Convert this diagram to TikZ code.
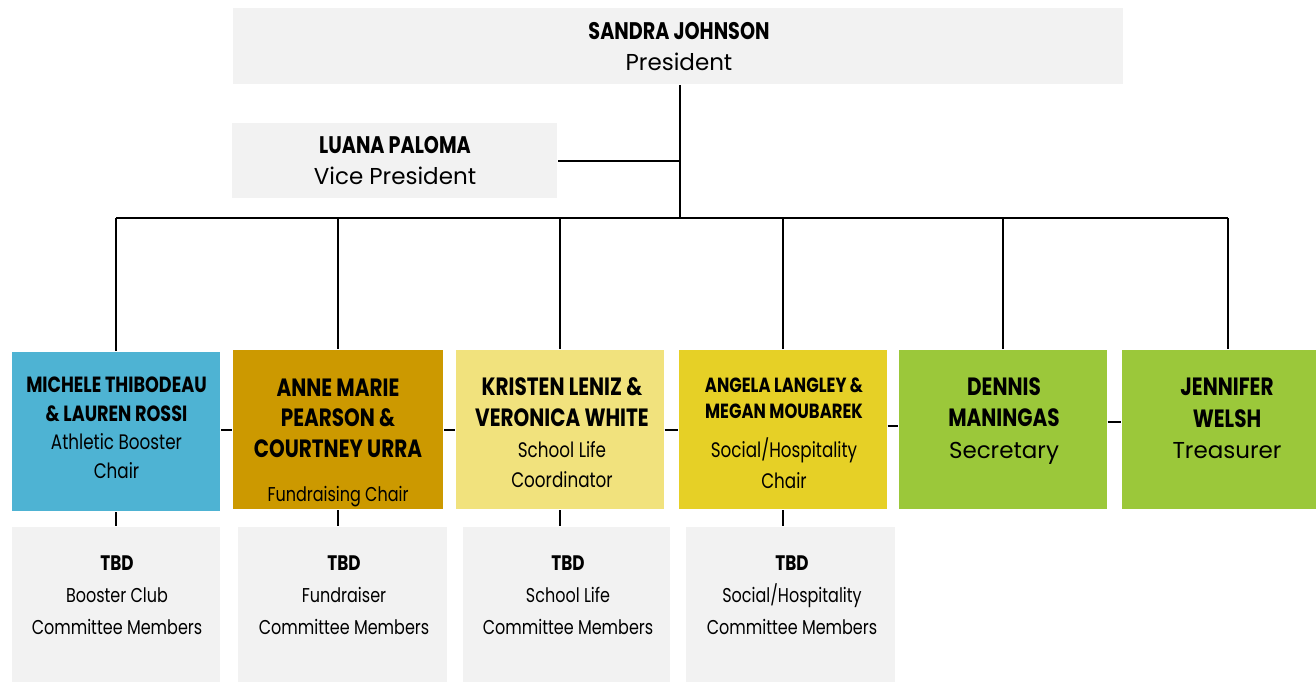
\documentclass[tikz,border=0pt]{standalone}
\usepackage{fontspec}
\setmainfont{Poppins}
\newfontfamily\condfont[FakeStretch=0.8]{Poppins}
\usetikzlibrary{positioning}

\definecolor{boxgray}{HTML}{F2F2F2}
\definecolor{athblue}{HTML}{4EB3D3}
\definecolor{fundgold}{HTML}{CC9900}
\definecolor{lifeyellow}{HTML}{F1E27D}
\definecolor{socyellow}{HTML}{E6D026}
\definecolor{officegreen}{HTML}{9BC83A}

\begin{document}
\begin{tikzpicture}[x=1pt, y=-1pt, line width=2pt,
	box/.style = {inner sep=0pt, minimum width=208pt, minimum height=159pt},
	head/.style = {inner sep=0pt, fill=boxgray},
	txt/.style = {align=center, inner sep=0pt, font=\condfont\fontsize{#1}{31}\selectfont}]
	\useasboundingbox (0,0) rectangle (1316,682);

	% president and vice president
	\node[head, minimum width=890pt, minimum height=76pt] (pres) at (678,46) {};
	\node[txt=24] (pres-t) at (679,47) {{\bfseries SANDRA JOHNSON}\\{\rmfamily\fontsize{23}{31}\selectfont President}};
	\node[head, minimum width=325pt, minimum height=75pt] (vp) at (394.5,160.5) {};
	\node[txt=24] (vp-t) at (395,161) {{\bfseries LUANA PALOMA}\\{\rmfamily\fontsize{23}{31}\selectfont Vice President}};

	% chairs and officers
	\node[box, fill=athblue] (blue) at (116,431.5) {};
	\node[box, fill=fundgold, minimum width=210pt] (gold) at (338,429.5) {};
	\node[box, fill=lifeyellow] (life) at (559.5,429.5) {};
	\node[box, fill=socyellow] (soc) at (782.5,429.5) {};
	\node[box, fill=officegreen] (secr) at (1002.5,429.5) {};
	\node[box, fill=officegreen, minimum width=212pt] (treas) at (1228,429.5) {};

	\node[txt=21, font=\condfont\fontsize{21}{28.5}\selectfont] (blue-t) at (116.5,428)
		{{\fontsize{22}{28.5}\selectfont\bfseries MICHELE THIBODEAU}\\{\fontsize{22}{28.5}\selectfont\bfseries \& LAUREN ROSSI}\\Athletic Booster\\Chair};
	\node[txt=20, font=\condfont\fontsize{20}{30.5}\selectfont] (gold-t) at (338,443)
		{{\fontsize{25}{30.5}\selectfont\bfseries ANNE MARIE}\\{\fontsize{25}{30.5}\selectfont\bfseries PEARSON \&}\\{\fontsize{25}{30.5}\selectfont\bfseries COURTNEY URRA}\\[14pt]Fundraising Chair};
	\node[txt=21, font=\condfont\fontsize{21}{30.7}\selectfont] (life-t) at (562,433)
		{{\fontsize{25}{30.7}\selectfont\bfseries KRISTEN LENIZ \&}\\{\fontsize{25}{30.7}\selectfont\bfseries VERONICA WHITE}\\School Life\\Coordinator};
	\node[txt=21, font=\condfont\fontsize{21}{26}\selectfont] (soc-t) at (784,433)
		{{\fontsize{20.5}{26}\selectfont\bfseries ANGELA LANGLEY \&}\\{\fontsize{20.5}{26}\selectfont\bfseries MEGAN MOUBAREK}\\[13pt]Social/Hospitality\\[5pt]Chair};
	\node[txt=25, font=\condfont\fontsize{25}{31.5}\selectfont] (secr-t) at (1004,421)
		{{\bfseries DENNIS}\\{\bfseries MANINGAS}\\{\rmfamily\fontsize{23}{31.5}\selectfont Secretary}};
	\node[txt=25, font=\condfont\fontsize{25}{31.5}\selectfont] (treas-t) at (1227,418.5)
		{{\bfseries JENNIFER}\\{\bfseries WELSH}\\{\rmfamily\fontsize{23}{31.5}\selectfont Treasurer}};

	% committees
	\node[head, minimum width=208pt, minimum height=159pt] (boost) at (116,606.5) {};
	\node[head, minimum width=209pt, minimum height=159pt] (fund) at (342.5,606.5) {};
	\node[head, minimum width=207pt, minimum height=159pt] (lifec) at (566.5,606.5) {};
	\node[head, minimum width=209pt, minimum height=159pt] (socc) at (790.5,606.5) {};

	\node[txt=20, font=\condfont\fontsize{20}{32}\selectfont] (boost-t) at (117,595) {{\fontsize{21}{32}\selectfont\bfseries TBD}\\Booster Club\\Committee Members};
	\node[txt=20, font=\condfont\fontsize{20}{32}\selectfont] (fund-t) at (344,595) {{\fontsize{21}{32}\selectfont\bfseries TBD}\\Fundraiser\\Committee Members};
	\node[txt=20, font=\condfont\fontsize{20}{32}\selectfont] (lifec-t) at (568,595) {{\fontsize{21}{32}\selectfont\bfseries TBD}\\School Life\\Committee Members};
	\node[txt=20, font=\condfont\fontsize{20}{32}\selectfont] (socc-t) at (792,595) {{\fontsize{21}{32}\selectfont\bfseries TBD}\\Social/Hospitality\\Committee Members};

	% connectors
	\coordinate (hub) at (680,218);
	\draw (hub |- pres.south) -- (hub);
	\draw (vp.east) -- (vp.east -| hub);
	\draw (blue.north |- hub) -- (treas.north |- hub);
	\foreach \n in {blue,gold,life,soc,secr,treas}
		\draw (\n.north) -- (\n.north |- hub);
	\draw (gold.west -| blue.east) -- (gold.west);
	\draw (gold.east) -- (life.west);
	\draw (life.east) -- (soc.west);
	\draw ([yshift=4pt]soc.east) -- ([yshift=4pt]secr.west);
	\draw ([yshift=8pt]secr.east) -- ([yshift=8pt]treas.west);
	\draw (blue.south) -- (boost.north);
	\draw (gold.south) -- (gold.south |- fund.north);
	\draw (life.south) -- (life.south |- lifec.north);
	\draw (soc.south) -- (soc.south |- socc.north);
\end{tikzpicture}
\end{document}
